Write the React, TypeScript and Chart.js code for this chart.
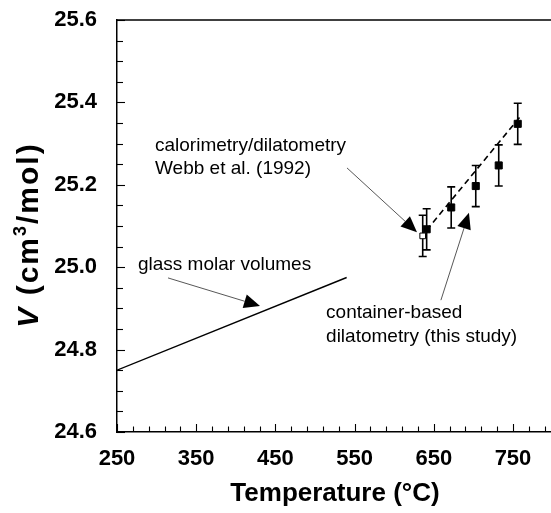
import React, { useEffect, useRef } from "react";
import { Chart, registerables } from "chart.js";

Chart.register(...registerables);

// ---- data ----
const studyT = [641, 672, 703, 732, 756];
const studyV = [25.092, 25.145, 25.197, 25.247, 25.348];
const studyErr = [0.05, 0.05, 0.05, 0.05, 0.05];

const webbT = [636];
const webbV = [25.076];
const webbErr = [0.05];

const glassT = [250, 540];
const glassV = [24.75, 24.975];

const fitT = [641, 761];
const fitV = [25.09, 25.37];

const xMajorLabels = [250, 350, 450, 550, 650, 750];
const xMinorStep = 20;
const yMajorLabels = [24.6, 24.8, 25.0, 25.2, 25.4, 25.6];
const yMinorStep = 0.05;

const X_MIN = 250;
const X_MAX = 798;
const Y_MIN = 24.6;
const Y_MAX = 25.6;

// annotation texts (anchored in data coordinates)
const notes = [
  { text: "calorimetry/dilatometry", x: 298, y: 25.282 },
  { text: "Webb et al. (1992)", x: 298, y: 25.226 },
  { text: "glass molar volumes", x: 276.5, y: 24.993 },
  { text: "container-based", x: 514, y: 24.877 },
  { text: "dilatometry (this study)", x: 514, y: 24.818 },
];
const arrows = [
  { fx: 540.4, fy: 25.241, tx: 628.8, ty: 25.085 },
  { fx: 314.4, fy: 24.974, tx: 430.6, ty: 24.906 },
  { fx: 659, fy: 24.92, tx: 694.4, ty: 25.132 },
];

const FONT = "'Liberation Sans', Arial, Helvetica, sans-serif";

const pts = (xs: number[], ys: number[]) => xs.map((x, i) => ({ x, y: ys[i] }));

const customPlugin = {
  id: "custom",
  beforeDatasetsDraw(chart: any) {
    const ctx = chart.ctx;
    const xs = chart.scales.x;
    const ys = chart.scales.y;
    chart.data.datasets.forEach((ds: any) => {
      if (!ds.errors) return;
      ds.data.forEach((p: any, i: number) => {
        const e = ds.errors[i];
        const px = xs.getPixelForValue(p.x);
        const top = ys.getPixelForValue(p.y + e);
        const bot = ys.getPixelForValue(p.y - e);
        ctx.save();
        ctx.strokeStyle = "#000";
        ctx.lineWidth = 1.6;
        ctx.beginPath();
        ctx.moveTo(px, top);
        ctx.lineTo(px, bot);
        ctx.moveTo(px - 4, top);
        ctx.lineTo(px + 4, top);
        ctx.moveTo(px - 4, bot);
        ctx.lineTo(px + 4, bot);
        ctx.stroke();
        ctx.restore();
      });
    });
  },
  afterDraw(chart: any) {
    const ctx = chart.ctx;
    const xs = chart.scales.x;
    const ys = chart.scales.y;
    const area = chart.chartArea;
    ctx.save();
    ctx.strokeStyle = "#000";
    ctx.lineWidth = 1.3;
    // top border
    ctx.beginPath();
    ctx.moveTo(area.left, area.top);
    ctx.lineTo(area.right, area.top);
    ctx.stroke();
    // inward ticks
    ctx.lineWidth = 1.1;
    xs.ticks.forEach((t: any) => {
      const major = xMajorLabels.some((m) => Math.abs(m - t.value) < 1e-6);
      const px = Math.round(xs.getPixelForValue(t.value)) + 0.5;
      ctx.beginPath();
      ctx.moveTo(px, area.bottom);
      ctx.lineTo(px, area.bottom - (major ? 8 : 5.5));
      ctx.stroke();
    });
    ys.ticks.forEach((t: any) => {
      const major = yMajorLabels.some((m) => Math.abs(m - t.value) < 1e-6);
      const py = Math.round(ys.getPixelForValue(t.value)) + 0.5;
      ctx.beginPath();
      ctx.moveTo(area.left, py);
      ctx.lineTo(area.left + (major ? 8 : 6), py);
      ctx.stroke();
    });

    // annotations
    ctx.fillStyle = "#000";
    ctx.font = `19px ${FONT}`;
    ctx.textAlign = "left";
    ctx.textBaseline = "alphabetic";
    notes.forEach((n) => {
      ctx.fillText(n.text, xs.getPixelForValue(n.x), ys.getPixelForValue(n.y));
    });
    arrows.forEach((a) => {
      const x0 = xs.getPixelForValue(a.fx);
      const y0 = ys.getPixelForValue(a.fy);
      const x1 = xs.getPixelForValue(a.tx);
      const y1 = ys.getPixelForValue(a.ty);
      const ang = Math.atan2(y1 - y0, x1 - x0);
      const hl = 16;
      const hw = 7;
      const bx = x1 - hl * Math.cos(ang);
      const by = y1 - hl * Math.sin(ang);
      ctx.strokeStyle = "#444";
      ctx.lineWidth = 0.9;
      ctx.beginPath();
      ctx.moveTo(x0, y0);
      ctx.lineTo(bx, by);
      ctx.stroke();
      ctx.fillStyle = "#000";
      ctx.beginPath();
      ctx.moveTo(x1, y1);
      ctx.lineTo(bx + hw * Math.sin(ang), by - hw * Math.cos(ang));
      ctx.lineTo(bx - hw * Math.sin(ang), by + hw * Math.cos(ang));
      ctx.closePath();
      ctx.fill();
    });

    // x title
    ctx.fillStyle = "#000";
    ctx.font = `bold 26px ${FONT}`;
    ctx.textAlign = "center";
    ctx.fillText("Temperature (°C)", 335, 501);

    // y title
    ctx.save();
    ctx.translate(38, 235);
    ctx.rotate(-Math.PI / 2);
    ctx.textAlign = "left";
    (ctx as any).letterSpacing = "2px";
    const parts = [
      { t: "V", f: `italic bold 30px ${FONT}`, dy: 0 },
      { t: " (cm", f: `bold 30px ${FONT}`, dy: 0 },
      { t: "3", f: `bold 18px ${FONT}`, dy: -12 },
      { t: "/mol)", f: `bold 30px ${FONT}`, dy: 0 },
    ];
    let total = 0;
    parts.forEach((p) => {
      ctx.font = p.f;
      total += ctx.measureText(p.t).width;
    });
    let cx = -total / 2;
    parts.forEach((p) => {
      ctx.font = p.f;
      ctx.fillText(p.t, cx, p.dy);
      cx += ctx.measureText(p.t).width;
    });
    ctx.restore();
    ctx.restore();
  },
};

export default function App() {
  const ref = useRef<HTMLCanvasElement | null>(null);
  useEffect(() => {
    document.body.style.margin = "0";
    const canvas = ref.current;
    if (!canvas) return;
    const chart = new Chart(canvas, {
      type: "scatter",
      data: {
        datasets: [
          {
            label: "glass",
            data: pts(glassT, glassV),
            showLine: true,
            borderColor: "#000",
            borderWidth: 1.4,
            pointRadius: 0,
          },
          {
            label: "fit",
            data: pts(fitT, fitV),
            showLine: true,
            borderColor: "#000",
            borderWidth: 1.6,
            borderDash: [6, 4],
            pointRadius: 0,
          },
          {
            label: "webb",
            data: pts(webbT, webbV),
            errors: webbErr,
            pointStyle: "rect",
            pointRadius: 4,
            backgroundColor: "#fff",
            borderColor: "#000",
            borderWidth: 1,
          } as any,
          {
            label: "study",
            data: pts(studyT, studyV),
            errors: studyErr,
            pointStyle: "rect",
            pointRadius: 5,
            backgroundColor: "#000",
            borderColor: "#000",
            borderWidth: 1,
          } as any,
        ],
      },
      options: {
        responsive: false,
        animation: false,
        devicePixelRatio: 1,
        layout: { padding: { top: 20, right: 0, left: 0, bottom: 0 } },
        plugins: { legend: { display: false }, tooltip: { enabled: false } },
        scales: {
          x: {
            type: "linear",
            min: X_MIN,
            max: X_MAX,
            grid: { display: false, drawTicks: false },
            border: { display: true, color: "#000", width: 1.5 },
            afterBuildTicks: (scale: any) => {
              const t = [];
              for (let v = X_MIN; v < X_MAX; v += xMinorStep) t.push({ value: v });
              scale.ticks = t;
            },
            afterFit: (scale: any) => {
              scale.height = 81;
              scale.paddingLeft = 0;
              scale.paddingRight = 0;
            },
            ticks: {
              autoSkip: false,
              maxRotation: 0,
              padding: 14,
              color: "#000",
              font: { family: FONT, size: 22, weight: "bold" },
              callback: (v: any) =>
                xMajorLabels.some((m) => Math.abs(m - Number(v)) < 1e-6) ? String(v) : "",
            },
          },
          y: {
            type: "linear",
            min: Y_MIN,
            max: Y_MAX,
            grid: { display: false, drawTicks: false },
            border: { display: true, color: "#000", width: 1.5 },
            afterBuildTicks: (scale: any) => {
              const t = [];
              const n = Math.round((Y_MAX - Y_MIN) / yMinorStep);
              for (let i = 0; i <= n; i++) t.push({ value: +(Y_MIN + i * yMinorStep).toFixed(4) });
              scale.ticks = t;
            },
            afterFit: (scale: any) => {
              scale.width = 117;
              scale.paddingTop = 0;
              scale.paddingBottom = 0;
            },
            ticks: {
              autoSkip: false,
              padding: 20,
              color: "#000",
              font: { family: FONT, size: 22, weight: "bold" },
              callback: (v: any) =>
                yMajorLabels.some((m) => Math.abs(m - Number(v)) < 1e-6)
                  ? Number(v).toFixed(1)
                  : "",
            },
          },
        },
      },
      plugins: [customPlugin],
    } as any);
    return () => chart.destroy();
  }, []);
  return (
    <div style={{ width: 551, height: 513, overflow: "hidden" }}>
      <canvas ref={ref} width={557} height={513} style={{ display: "block" }} />
    </div>
  );
}
